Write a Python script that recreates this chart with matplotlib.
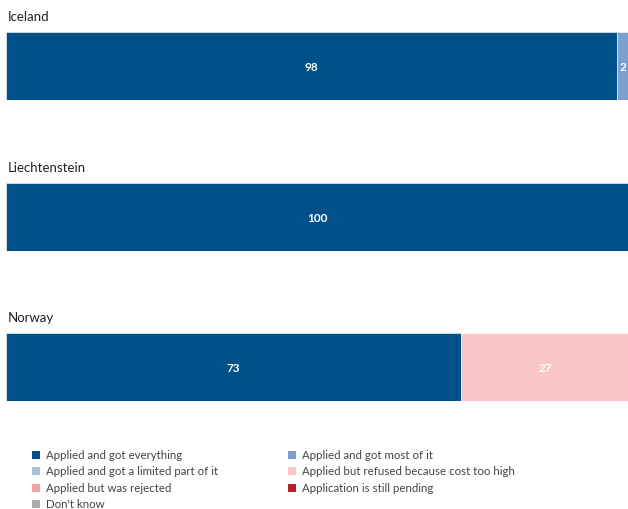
import matplotlib.pyplot as plt
from matplotlib.patches import Patch

countries = ['Iceland', 'Liechtenstein', 'Norway']
categories = ['Applied and got everything', 'Applied and got most of it',
              'Applied and got a limited part of it', 'Applied but refused because cost too high',
              'Applied but was rejected', 'Application is still pending', "Don't know"]
values = {
    'Iceland':       [98, 2, 0, 0, 0, 0, 0],
    'Liechtenstein': [100, 0, 0, 0, 0, 0, 0],
    'Norway':        [73, 0, 0, 27, 0, 0, 0],
}
colors = ['#00518a', '#7b9fcf', '#a8c3e2', '#f9c6c7', '#f2a1a2', '#b0212b', '#b3aaa6']

plt.rcParams['font.family'] = ['Lato', 'DejaVu Sans']
W, H = 628, 509
fig = plt.figure(figsize=(W / 100, H / 100), dpi=100)

bar_tops = [32, 183, 333]
bar_h = 68
for country, top in zip(countries, bar_tops):
    ax = fig.add_axes([6 / W, 1 - (top + bar_h) / H, 623 / W, bar_h / H])
    left = 0
    for v, c in zip(values[country], colors):
        if v > 0:
            ax.barh(0, v, left=left, color=c, height=1, edgecolor='white', linewidth=0.4)
            ax.text(left + v / 2, -0.02, str(v), ha='center', va='center', color='white',
                    fontsize=8.5, fontweight='bold')
        left += v
    ax.set_xlim(0, 100)
    ax.set_ylim(-0.5, 0.5)
    ax.axis('off')
    fig.text(8 / W, 1 - (top - 15) / H, country, ha='left', va='center', fontsize=9.5, color='#222222')

order = [0, 2, 4, 6, 1, 3, 5]
handles = [Patch(facecolor=colors[i], label=categories[i]) for i in order]
fig.legend(handles=handles, ncol=2, loc='upper left', bbox_to_anchor=(26 / W, 1 - 444 / H),
           frameon=False, fontsize=8.3, handlelength=0.7, handleheight=0.7, handletextpad=0.5,
           labelspacing=0.47, columnspacing=6.1, labelcolor='#444444', borderpad=0)

fig.savefig('out.png', dpi=100)
